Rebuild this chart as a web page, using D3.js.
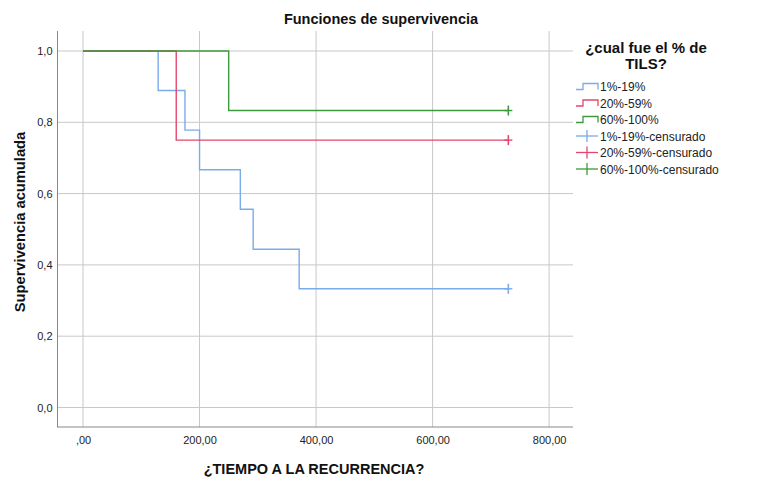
<!DOCTYPE html>
<html>
<head>
<meta charset="utf-8">
<script src="https://cdn.jsdelivr.net/npm/d3@7"></script>
<style>
  body { margin: 0; background: #fff; }
  svg text { font-family: "Liberation Sans", Arial, sans-serif; }
</style>
</head>
<body>
<div id="chart"></div>
<script>
// ── Data ──────────────────────────────────────
const GROUPS   = ["1%-19%", "20%-59%", "60%-100%"];
const COLORS   = ["#7aabea", "#e6466d", "#3d9a3d"];
// step curves: [time, survival]
const STEPS_1  = [[0, 1], [129, 0.889], [175, 0.778], [200, 0.667], [270, 0.556], [292, 0.444], [371, 0.333], [730, 0.333]];
const STEPS_2  = [[0, 1], [160, 0.75], [730, 0.75]];
const STEPS_3  = [[0, 1], [250, 0.833], [730, 0.833]];
const CENSORED = [[730, 0.333], [730, 0.75], [730, 0.833]];
const X_TICKS  = [0, 200, 400, 600, 800];
const Y_TICKS  = [0, 0.2, 0.4, 0.6, 0.8, 1.0];

const W = 768, H = 489;
const plot = { left: 57.5, right: 573, top: 31, bottom: 427 };

const svg = d3.select("#chart").append("svg").attr("width", W).attr("height", H);

const x = d3.scaleLinear().domain([-43.8, 841]).range([plot.left, plot.right]);
const y = d3.scaleLinear().domain([0, 1]).range([407.5, 51]);

// Grid
svg.append("g").selectAll("line").data(X_TICKS).join("line")
  .attr("x1", d => x(d)).attr("x2", d => x(d))
  .attr("y1", plot.top).attr("y2", plot.bottom)
  .attr("stroke", "#c8c8c8").attr("stroke-width", 1);
svg.append("g").selectAll("line").data(Y_TICKS).join("line")
  .attr("x1", plot.left).attr("x2", plot.right)
  .attr("y1", d => y(d)).attr("y2", d => y(d))
  .attr("stroke", "#c8c8c8").attr("stroke-width", 1);

// Axes
const fmtX = d => d === 0 ? ",00" : d3.format(".2f")(d).replace(".", ",");
const fmtY = d => d3.format(".1f")(d).replace(".", ",");

const xAxis = svg.append("g").attr("transform", `translate(0,${plot.bottom})`)
  .call(d3.axisBottom(x).tickValues(X_TICKS).tickSize(0).tickPadding(9).tickFormat(fmtX));
xAxis.select(".domain").remove();
xAxis.selectAll("text").attr("font-size", "11px").attr("fill", "#222")
  .attr("font-family", "'Liberation Sans', Arial, sans-serif");

const yAxis = svg.append("g").attr("transform", `translate(${plot.left},0)`)
  .call(d3.axisLeft(y).tickValues(Y_TICKS).tickSize(0).tickPadding(5).tickFormat(fmtY));
yAxis.select(".domain").remove();
yAxis.selectAll("text").attr("font-size", "11px").attr("fill", "#222")
  .attr("font-family", "'Liberation Sans', Arial, sans-serif");

svg.append("line").attr("x1", plot.left).attr("x2", plot.left)
  .attr("y1", plot.top).attr("y2", plot.bottom + 0.5).attr("stroke", "#888");
svg.append("line").attr("x1", plot.left).attr("x2", plot.right)
  .attr("y1", plot.bottom).attr("y2", plot.bottom).attr("stroke", "#888");

// Curves
const line = d3.line().x(d => x(d[0])).y(d => y(d[1])).curve(d3.curveStepAfter);
[STEPS_1, STEPS_2, STEPS_3].forEach((s, i) => {
  svg.append("path").datum(s).attr("d", line)
    .attr("fill", "none").attr("stroke", COLORS[i]).attr("stroke-width", 1.4);
});

// Censor marks
CENSORED.forEach((c, i) => {
  const cx = x(c[0]), cy = y(c[1]);
  svg.append("line").attr("x1", cx).attr("x2", cx).attr("y1", cy - 5).attr("y2", cy + 5)
    .attr("stroke", COLORS[i]).attr("stroke-width", 1.6);
  svg.append("line").attr("x1", cx - 4).attr("x2", cx + 4).attr("y1", cy).attr("y2", cy)
    .attr("stroke", COLORS[i]).attr("stroke-width", 1.4);
});

// Titles
svg.append("text").attr("x", 381).attr("y", 24).attr("text-anchor", "middle")
  .attr("font-size", "14.5px").attr("font-weight", "bold").attr("fill", "#111")
  .text("Funciones de supervivencia");
svg.append("text").attr("x", 314).attr("y", 474).attr("text-anchor", "middle")
  .attr("font-size", "14.5px").attr("font-weight", "bold").attr("fill", "#111")
  .text("¿TIEMPO A LA RECURRENCIA?");
svg.append("text").attr("transform", "rotate(-90)")
  .attr("x", -222).attr("y", 25).attr("text-anchor", "middle")
  .attr("font-size", "14.7px").attr("font-weight", "bold").attr("fill", "#111")
  .text("Supervivencia acumulada");

// Legend
const legend = svg.append("g");
legend.append("text").attr("x", 646).attr("y", 53).attr("text-anchor", "middle")
  .attr("font-size", "15px").attr("font-weight", "bold").attr("fill", "#111")
  .text("¿cual fue el % de");
legend.append("text").attr("x", 646).attr("y", 69).attr("text-anchor", "middle")
  .attr("font-size", "15px").attr("font-weight", "bold").attr("fill", "#111")
  .text("TILS?");

const rowY = i => 86.5 + i * 16.5;
GROUPS.forEach((g, i) => {
  const yy = rowY(i);
  legend.append("path")
    .attr("d", `M576,${yy + 3} H583 V${yy - 3} H598 V${yy + 3}`)
    .attr("fill", "none").attr("stroke", COLORS[i]).attr("stroke-width", 1.3);
  legend.append("text").attr("x", 600).attr("y", yy + 4.5)
    .attr("font-size", "12px").attr("fill", "#222").text(g);
});
GROUPS.forEach((g, i) => {
  const yy = rowY(i + 3);
  legend.append("line").attr("x1", 576).attr("x2", 598).attr("y1", yy).attr("y2", yy)
    .attr("stroke", COLORS[i]).attr("stroke-width", 1.3);
  legend.append("line").attr("x1", 587).attr("x2", 587).attr("y1", yy - 6).attr("y2", yy + 6)
    .attr("stroke", COLORS[i]).attr("stroke-width", 1.3);
  legend.append("text").attr("x", 600).attr("y", yy + 4.5)
    .attr("font-size", "12px").attr("fill", "#222").text(g + "-censurado");
});
</script>
</body>
</html>
